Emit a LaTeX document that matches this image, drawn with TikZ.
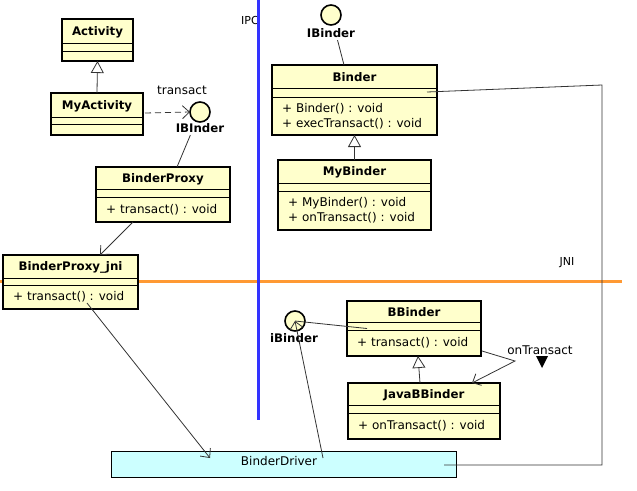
\documentclass[tikz,border=0pt]{standalone}
\usepackage{fontspec}
\setmainfont{DejaVu Sans}
\usetikzlibrary{arrows.meta,calc}
\definecolor{clsfill}{HTML}{FFFFCC}
\definecolor{drvfill}{HTML}{CCFFFF}
\definecolor{ipcblue}{HTML}{3333FF}
\definecolor{jniorange}{HTML}{FF9933}
\definecolor{conncol}{HTML}{333333}
\tikzset{
 clsbox/.style={draw=black, line width=2pt, fill=clsfill, inner sep=0pt, outer sep=0pt},
 ttl/.style={font=\fontsize{11.8}{13}\selectfont\bfseries, inner sep=0pt},
 mth/.style={font=\fontsize{12}{15}\selectfont, align=left, inner sep=0pt, anchor=west},
 sepline/.style={line width=1pt},
 iface/.style={circle, draw=black, line width=1.6pt, fill=clsfill, minimum size=20pt, inner sep=0pt, outer sep=0pt},
 ilabel/.style={font=\fontsize{11.8}{13}\selectfont\bfseries, inner sep=0pt},
 plain/.style={font=\fontsize{12}{13}\selectfont, inner sep=0pt},
 small/.style={font=\fontsize{11}{12}\selectfont, inner sep=0pt},
 conn/.style={draw=conncol, line width=0.8pt},
 openarr/.style={conn, -{Straight Barb[length=7pt, width=13pt]}},
 inherit/.style={conn, -{Triangle[length=12pt, width=13pt, fill=white, line width=0.8pt]}},
}
\newcommand\umlcls[9]{%
 \node[clsbox, anchor=north west, minimum width={(#4-#2)*1pt}, minimum height={(#5-#3)*1pt}] (#1) at (#2,#3) {};
 \draw[sepline] (#2,#6) -- (#4,#6);
 \draw[sepline] (#2,#7) -- (#4,#7);
 \node[ttl] (#1-name) at ({(#2+#4)/2},{(#3+#6)/2+1}) {#8};
 \node[mth] (#1-ops) at ({#2+10},{(#7+#5)/2}) {#9};
}
\begin{document}
\begin{tikzpicture}[x=1pt,y=-1pt]
\useasboundingbox (0,0) rectangle (637,490);
% layer labels
\node[small] (ipc) at (250,20) {IPC};
\node[small] (jni) at (567,263) {JNI};
\draw[jniorange, line width=3pt] (0,281) -- (622,281);
\draw[ipcblue, line width=3pt] (258,0) -- (258,420);
% driver
\node[draw=black, line width=1pt, fill=drvfill, anchor=north west, minimum width=345pt, minimum height=26pt, inner sep=0pt, outer sep=0pt] (driver) at (111,451) {};
\node[plain] (drvtxt) at (279,461) {BinderDriver};
% classes
\umlcls{act}{62}{19}{133}{61}{43}{51}{Activity}{}
\umlcls{myact}{51}{93}{143}{135}{117}{124}{MyActivity}{}
\umlcls{bproxy}{96}{167}{230}{222}{189}{197}{BinderProxy}{+ transact() : void}
\umlcls{bpjni}{3}{255}{138}{309}{278}{285}{BinderProxy\_jni}{+ transact() : void}
\umlcls{binder}{272}{65}{437}{135}{88}{97}{Binder}{+ Binder() : void\\+ execTransact() : void}
\umlcls{mybinder}{278}{160}{431}{230}{183}{191}{MyBinder}{+ MyBinder() : void\\+ onTransact() : void}
\umlcls{bbinder}{347}{301}{481}{356}{322}{330}{BBinder}{+ transact() : void}
\umlcls{jbb}{348}{383}{500}{439}{405}{413}{JavaBBinder}{+ onTransact() : void}
% interfaces
\node[iface] (ib1) at (200,112) {};
\node[ilabel] (ib1lbl) at (200,128) {IBInder};
\node[iface] (ib2) at (331,15) {};
\node[ilabel] (ib2lbl) at (331,33) {IBinder};
\node[iface] (ib3) at (295,321) {};
\node[ilabel] (ib3lbl) at (294,338) {iBinder};
% labels
\node[plain] (transactlbl) at (182,90) {transact};
\node[plain] (ontlbl) at (540,350) {onTransact};
\fill[black] (536,356) -- (548,356) -- (542,368) -- cycle;
% connectors
\draw[inherit] (myact.north) -- (act.south);
\draw[inherit] (mybinder.north) -- (binder.south);
\draw[inherit] ($(jbb.north)+(-4,0)$) -- ($(bbinder.south)+(4,0)$);
\draw[openarr, dash pattern=on 6pt off 4pt] ($(myact.east)+(2,-1)$) -- (ib1.west);
\draw[conn, shorten <=25pt] (ib1.center) -- ($(bproxy.north)+(14,0)$);
\draw[conn, shorten <=26pt] (ib2.center) -- ($(binder.north)+(-10.5,0)$);
\draw[openarr] ($(bproxy.south)+(-30,0)$) -- ($(bpjni.north)+(29.5,0)$);
\draw[openarr] ($(bpjni.center)+(16.5,21)$) -- ($(driver.center)+(-73.5,-6)$);
\draw[openarr] ($(driver.center)+(39.5,-6)$) -- (ib3.center);
\draw[conn] ($(bbinder.center)+(-47,0)$) -- (ib3.center);
\coordinate (c1) at (602,85);
\coordinate (c2) at (602,465);
\draw[conn] ($(binder.center)+(72.5,-8)$) -- (c1) -- (c2) -- ($(driver.center)+(160.5,1)$);
\coordinate (ot) at (515,361);
\draw[openarr] ($(bbinder.south east)+(1,-5)$) -- (ot) -- ($(jbb.north)+(48,0)$);
\end{tikzpicture}
\end{document}
